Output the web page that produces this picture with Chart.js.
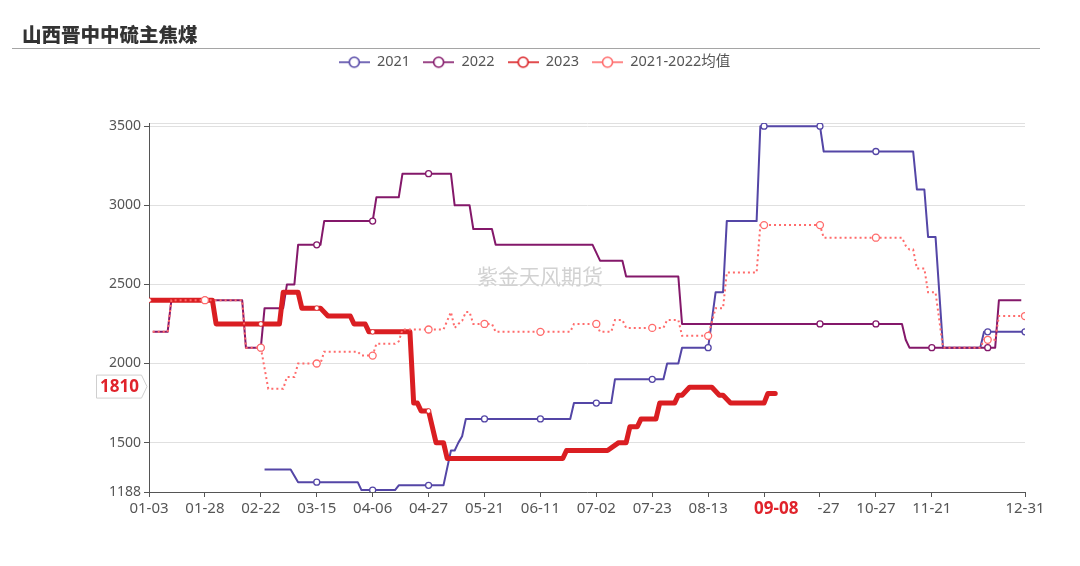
<!DOCTYPE html>
<html>
<head>
<meta charset="utf-8">
<script src="https://cdn.jsdelivr.net/npm/chart.js@4.4.1/dist/chart.umd.min.js"></script>
<style>
  html, body { margin: 0; padding: 0; background: #fff; }
  #wrap { position: relative; width: 1080px; height: 566px; }
  #chart { position: absolute; left: 0; top: 0; }
  #title { position: absolute; left: 22px; top: 19px; line-height: 22px;
           font: 900 19.5px "Noto Sans CJK SC", sans-serif; color: #333; }
  #rule { position: absolute; left: 12px; top: 48px; width: 1028px; height: 1px; background: #a5a5a5; }
</style>
</head>
<body>
<div id="wrap">
  <canvas id="chart" width="1080" height="566"></canvas>
  <div id="title">山西晋中中硫主焦煤</div>
  <div id="rule"></div>
</div>
<script>
// x positions are trading-day slots; a labelled tick every 15 slots
const tickPos = [0, 15, 30, 45, 60, 75, 90, 105, 120, 135, 150, 165, 180, 195, 210, 235];
const tickLabels = ['01-03', '01-28', '02-22', '03-15', '04-06', '04-27', '05-21', '06-11',
  '07-02', '07-23', '08-13', '', '\u2007\u2007-27', '10-27', '11-21', '12-31'];
const yTicks = [1188, 1500, 2000, 2500, 3000, 3500];

// series as [slot, price] break points
const s2021 = [[31,1330],[38,1330],[40,1250],[45,1250],[56,1250],[57,1200],[60,1200],[66,1200],[67,1230],
  [75,1230],[79,1230],[81,1450],[82,1450],[83,1500],[84,1540],[85,1650],[90,1650],[105,1650],[113,1650],
  [114,1750],[120,1750],[124,1750],[125,1900],[135,1900],[138,1900],[139,2000],[142,2000],[143,2100],
  [150,2100],[152,2450],[154,2450],[155,2900],[163,2900],[164,3500],[165,3500],[180,3500],[181,3340],
  [195,3340],[205,3340],[206,3100],[208,3100],[209,2800],[211,2800],[213,2100],[223,2100],[224,2200],
  [225,2200],[235,2200]];
const s2022 = [[1,2200],[5,2200],[6,2400],[15,2400],[25,2400],[26,2100],[30,2100],[31,2350],[36,2350],
  [37,2500],[39,2500],[40,2750],[45,2750],[46,2750],[47,2900],[60,2900],[61,3050],[67,3050],[68,3200],
  [75,3200],[81,3200],[82,3000],[86,3000],[87,2850],[92,2850],[93,2750],[119,2750],[121,2650],[127,2650],
  [128,2550],[142,2550],[143,2250],[180,2250],[195,2250],[202,2250],[203,2150],[204,2100],[210,2100],
  [225,2100],[227,2100],[228,2400],[234,2400]];
const s2023 = [[0,2400],[15,2400],[17,2400],[18,2250],[30,2250],[35,2250],[36,2450],[40,2450],[41,2350],
  [45,2350],[46,2350],[48,2300],[54,2300],[55,2250],[58,2250],[59,2200],[60,2200],[70,2200],[71,1750],
  [72,1750],[73,1700],[75,1700],[77,1500],[79,1500],[80,1400],[111,1400],[112,1450],[123,1450],[126,1500],
  [128,1500],[129,1600],[131,1600],[132,1650],[136,1650],[137,1750],[141,1750],[142,1800],[143,1800],
  [145,1850],[151,1850],[153,1800],[154,1800],[156,1750],[165,1750],[166,1810],[168,1810]];
const sAvg = [[1,2200],[5,2200],[6,2400],[15,2400],[25,2400],[26,2100],[30,2100],[32,1840],[36,1840],
  [37,1915],[39,1915],[40,2000],[45,2000],[46,2000],[47,2075],[56,2075],[57,2050],[60,2050],[61,2125],
  [66,2125],[67,2140],[68,2215],[75,2215],[79,2215],[81,2325],[82,2225],[83,2250],[84,2270],[85,2325],
  [86,2325],[87,2250],[90,2250],[92,2250],[93,2200],[105,2200],[113,2200],[114,2250],[120,2250],
  [121,2200],[124,2200],[125,2275],[127,2275],[128,2225],[135,2225],[138,2225],[139,2275],[142,2275],
  [143,2175],[150,2175],[152,2350],[154,2350],[155,2575],[163,2575],[164,2875],[165,2875],[180,2875],
  [181,2795],[195,2795],[202,2795],[203,2745],[204,2720],[205,2720],[206,2600],[208,2600],[209,2450],
  [211,2450],[213,2100],[223,2100],[224,2150],[225,2150],[227,2150],[228,2300],[235,2300]];

// slots where a symbol is shown
const marks2021 = [45, 60, 75, 90, 105, 120, 135, 150, 165, 180, 195, 225, 235];
const marks2022 = [15, 30, 45, 60, 75, 180, 195, 210, 225];
const marks2023 = [0, 15, 30, 45, 60, 75];
const marksAvg = [15, 30, 45, 60, 75, 90, 105, 120, 135, 150, 165, 180, 195, 210, 225, 235];

// hovered point shown by the axis pointer
const pointerDate = '09-08';
const pointerSlot = 168;
const pointerValue = 1810;

const FONT = '"Noto Sans", "Noto Sans CJK SC", sans-serif';
const colors = { c2021: '#5446a6', c2022: '#84186a', c2023: '#da1e22', avg: '#ff6b6b' };

// legend icon: short line with a hollow circle
function legendIcon(color) {
  const c = document.createElement('canvas');
  c.width = 31; c.height = 14;
  const g = c.getContext('2d');
  g.strokeStyle = color;
  g.lineWidth = 1.6;
  g.beginPath(); g.moveTo(0, 7); g.lineTo(31, 7); g.stroke();
  g.beginPath(); g.arc(15.5, 7, 5, 0, Math.PI * 2);
  g.fillStyle = '#fff'; g.fill(); g.stroke();
  return c;
}

function radiusAt(marks, r) {
  return ctx => (ctx.raw && marks.includes(ctx.raw[0])) ? r : 0;
}

// legend sits higher than the plot and is centred on the whole page
const legendSpace = {
  id: 'legendSpace',
  beforeInit(chart) {
    const legend = chart.legend;
    const fit = legend.fit;
    legend.fit = function () { fit.call(this); this.height = 81; };
    const draw = legend.draw;
    legend.draw = function () {
      const ctx = this.ctx;
      ctx.save();
      ctx.translate(22, 0);
      draw.call(this);
      ctx.restore();
    };
  }
};

const watermark = {
  id: 'watermark',
  beforeDatasetsDraw(chart) {
    const ctx = chart.ctx;
    ctx.save();
    ctx.font = '21px "Noto Sans CJK SC", sans-serif';
    ctx.fillStyle = '#d2d2d2';
    ctx.textAlign = 'center';
    ctx.textBaseline = 'middle';
    ctx.fillText('紫金天风期货', 540, 276);
    ctx.restore();
  }
};

const pointerLabels = {
  id: 'pointerLabels',
  afterDraw(chart) {
    const { ctx, scales: { x, y } } = chart;
    const px = x.getPixelForValue(pointerSlot);
    const py = y.getPixelForValue(pointerValue) - 7;
    ctx.save();
    ctx.font = 'bold 17px ' + FONT;
    ctx.fillStyle = '#e0232b';
    ctx.textAlign = 'center';
    ctx.textBaseline = 'middle';
    ctx.fillText(pointerDate, px + 1, 509);

    // y value tag pointing at the axis
    ctx.beginPath();
    ctx.moveTo(96.5, py - 11.5);
    ctx.lineTo(141.5, py - 11.5);
    ctx.lineTo(147, py);
    ctx.lineTo(141.5, py + 11.5);
    ctx.lineTo(96.5, py + 11.5);
    ctx.closePath();
    ctx.fillStyle = '#fff';
    ctx.fill();
    ctx.strokeStyle = '#cfcfcf';
    ctx.lineWidth = 1;
    ctx.stroke();
    ctx.fillStyle = '#e0232b';
    ctx.fillText(String(pointerValue), 119.5, py + 1);
    ctx.restore();
  }
};

new Chart(document.getElementById('chart'), {
  type: 'line',
  data: {
    datasets: [
      {
        label: '2021', data: s2021, order: 3,
        borderColor: colors.c2021, borderWidth: 2, borderJoinStyle: 'round',
        pointRadius: radiusAt(marks2021, 3), pointBackgroundColor: '#fff',
        pointBorderColor: colors.c2021, pointBorderWidth: 1.3
      },
      {
        label: '2022', data: s2022, order: 2,
        borderColor: colors.c2022, borderWidth: 2, borderJoinStyle: 'round',
        pointRadius: radiusAt(marks2022, 3), pointBackgroundColor: '#fff',
        pointBorderColor: colors.c2022, pointBorderWidth: 1.3
      },
      {
        label: '2023', data: s2023, order: 1,
        borderColor: colors.c2023, borderWidth: 5, borderJoinStyle: 'round', borderCapStyle: 'round',
        pointRadius: radiusAt(marks2023, 2.3), pointBackgroundColor: '#fff',
        pointBorderColor: colors.c2023, pointBorderWidth: 0.8
      },
      {
        label: '2021-2022均值', data: sAvg, order: 0,
        borderColor: colors.avg, borderWidth: 2, borderDash: [2, 3],
        pointRadius: radiusAt(marksAvg, 3.5), pointBackgroundColor: '#fff',
        pointBorderColor: colors.avg, pointBorderWidth: 1.3
      }
    ]
  },
  options: {
    responsive: false,
    animation: false,
    events: [],
    layout: { padding: { top: 42, left: 0, right: 55, bottom: 0 } },
    elements: { line: { tension: 0 } },
    plugins: {
      tooltip: { enabled: false },
      legend: {
        position: 'top',
        labels: {
          usePointStyle: true,
          pointStyleWidth: 31,
          padding: 13,
          color: '#555',
          font: { family: FONT, size: 14.5 },
          sort: (a, b) => a.datasetIndex - b.datasetIndex,
          generateLabels(chart) {
            const items = Chart.defaults.plugins.legend.labels.generateLabels(chart);
            const icons = [colors.c2021, colors.c2022, colors.c2023, colors.avg];
            items.forEach(it => { it.pointStyle = legendIcon(icons[it.datasetIndex]); });
            return items;
          }
        }
      }
    },
    scales: {
      x: {
        type: 'linear',
        min: 0,
        max: 235,
        afterBuildTicks: axis => { axis.ticks = tickPos.map(v => ({ value: v })); },
        afterFit: axis => { axis.height = 74; },
        border: { color: '#555', width: 1 },
        grid: { drawOnChartArea: false, drawTicks: true, tickLength: 5, tickColor: '#555' },
        ticks: {
          autoSkip: false,
          maxRotation: 0,
          padding: 3,
          color: '#555',
          font: { family: FONT, size: 15 },
          callback: v => tickLabels[tickPos.indexOf(v)]
        }
      },
      y: {
        min: 1188,
        max: 3520,
        afterBuildTicks: axis => { axis.ticks = [...yTicks, 3520].map(v => ({ value: v })); },
        afterFit: axis => { axis.width = 149; },
        border: { color: '#555', width: 1 },
        grid: {
          color: '#e0e0e0',
          tickLength: 5,
          tickColor: ctx => (ctx.tick && ctx.tick.value === 3520) ? 'rgba(0,0,0,0)' : '#555'
        },
        ticks: {
          padding: 3,
          color: '#555',
          font: { family: FONT, size: 14 },
          callback: v => (v === 3520 ? '' : v)
        }
      }
    }
  },
  plugins: [legendSpace, watermark, pointerLabels]
});
</script>
</body>
</html>
